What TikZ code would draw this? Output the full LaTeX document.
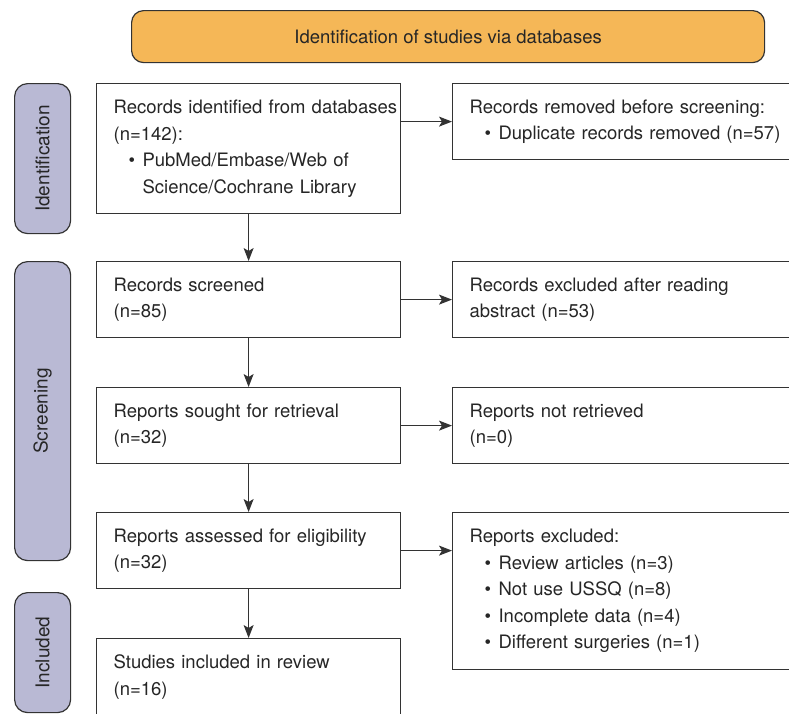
\documentclass[tikz,border=0pt]{standalone}
\usepackage{fontspec}
\setmainfont{TeX Gyre Heros}
\usetikzlibrary{arrows.meta}
\definecolor{bannerfill}{HTML}{F5B757}
\definecolor{barfill}{HTML}{B9B9D4}
\definecolor{edge}{HTML}{333333}
\newcommand{\bl}[1]{\hspace*{15pt}\makebox[14pt][l]{\textbullet}#1}
\tikzset{
  base/.style={font={\fontsize{18.5}{26.5}\selectfont}, text=black!85},
  lbox/.style={base, draw=edge, line width=1.2pt, fill=white, anchor=north west,
    text width=270pt, inner xsep=17pt, inner ysep=0pt, align=left},
  rbox/.style={lbox, text width=314pt},
  bar/.style={draw=edge, line width=1.2pt, fill=barfill, rounded corners=13pt, anchor=north west,
    minimum width=56pt, inner sep=0pt},
  bartext/.style={base, font={\fontsize{19}{22}\selectfont}, rotate=90},
  arr/.style={draw=edge, line width=1.2pt, -{Stealth[length=13pt,width=10pt,inset=3pt]}}
}
\begin{document}
\begin{tikzpicture}[x=1pt,y=-1pt]
\useasboundingbox (0,0) rectangle (789,713);
\clip (0,0) rectangle (789,713);
% banner
\node[base, draw=edge, line width=1.2pt, fill=bannerfill, rounded corners=12pt, anchor=north west,
  minimum width=633pt, minimum height=52pt, inner sep=0pt] (banner) at (131,10)
  {Identification of studies via databases};
% side bars
\node[bar, minimum height=150pt] (barI) at (14,83) {};
\node[bartext] at (barI.center) {Identification};
\node[bar, minimum height=299pt] (barS) at (14,261) {};
\node[bartext] at (barS.center) {Screening};
\node[bar, minimum height=120pt] (barN) at (14,592) {};
\node[bartext] at (barN.center) {Included};
% left boxes
\node[lbox, minimum height=130pt] (b1) at (96,83)
  {\mbox{Records identified from databases}\\(n=142):\\\bl{PubMed/Embase/Web of}\\\hspace*{29pt}Science/Cochrane Library};
\node[lbox, minimum height=76pt] (b2) at (96,261) {Records screened\\(n=85)};
\node[lbox, minimum height=76pt] (b3) at (96,387) {Reports sought for retrieval\\(n=32)};
\node[lbox, minimum height=76pt] (b4) at (96,512) {Reports assessed for eligibility\\(n=32)};
\node[lbox, minimum height=77pt] (b5) at (96,638) {Studies included in review\\(n=16)};
% right boxes
\node[rbox, minimum height=76pt] (r1) at (452,83)
  {Records removed before screening:\\\bl{Duplicate records removed (n=57)}};
\node[rbox, minimum height=76pt] (r2) at (452,261) {Records excluded after reading\\abstract (n=53)};
\node[rbox, minimum height=76pt] (r3) at (452,387) {Reports not retrieved\\(n=0)};
\node[rbox, minimum height=157pt] (r4) at (452,512)
  {Reports excluded:\\\bl{Review articles (n=3)}\\\bl{Not use USSQ (n=8)}\\\bl{Incomplete data (n=4)}\\\bl{Different surgeries (n=1)}};
% arrows
\draw[arr] (b1.south) -- (b2.north);
\draw[arr] (b2.south) -- (b3.north);
\draw[arr] (b3.south) -- (b4.north);
\draw[arr] (b4.south) -- (b5.north);
\draw[arr] (b1.east |- r1.west) -- (r1.west);
\draw[arr] (b2.east) -- (r2.west);
\draw[arr] (b3.east) -- (r3.west);
\draw[arr] (b4.east) -- (b4.east -| r4.west);
\end{tikzpicture}
\end{document}
